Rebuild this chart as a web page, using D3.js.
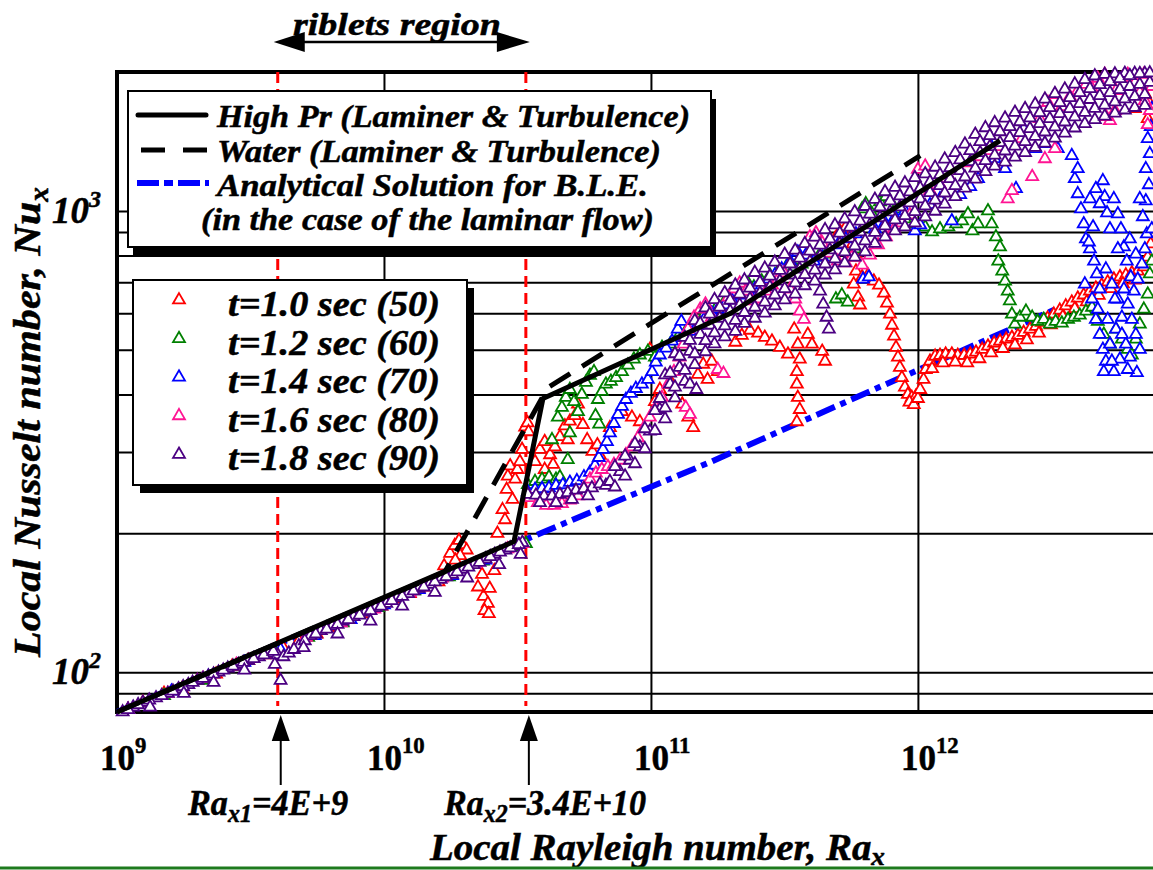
<!DOCTYPE html>
<html lang="en">
<head>
<meta charset="utf-8">
<title>Local Nusselt number vs Local Rayleigh number</title>
<script src="https://d3js.org/d3.v7.min.js"></script>
<style>
  body { margin: 0; background: #fff; }
  svg { display: block; }
  text { font-family: "Liberation Serif", "Times New Roman", Times, serif; }
</style>
</head>
<body>
<svg id="chart"></svg>
<script>
// ---- axis / grid values ----
const xTicks = [1e9, 1e10, 1e11, 1e12];
const xTickExp = ["9", "10", "11", "12"];
const yTicks = [100, 1000];
const yTickExp = ["2", "3"];
const xGrid = [1e10, 1e11, 1e12];
const yGrid = [90, 100, 200, 300, 400, 500, 600, 700, 800, 900, 1000];
const ribletRa = [4e9, 3.4e10];
const ribletLabels = [["x1", "=4E+9"], ["x2", "=3.4E+10"]];

// ---- correlation lines [Ra, Nu] ----
const highPr = [[1e9, 82], [3.07e10, 192], [3.94e10, 392], [1.99e11, 600], [2.03e12, 1420]];
const water = [[1e9, 82], [1.69e10, 165], [4.11e10, 414], [1.02e12, 1317]];
const bleLaminar = [[1e9, 82], [3.4e10, 194], [1.68e11, 286], [1.01e12, 453], [3.4e12, 618]];
const lineNames = ["High Pr (Laminer & Turbulence)", "Water (Laminer & Turbulence)",
  "Analytical Solution for B.L.E.", "(in the case of the laminar flow)"];

// ---- measured points [Ra, Nu] ----
const t10 = [
  [1.1e9,83],[1.25e9,86],[1.5e9,90],[1.75e9,92],[2.0e9,96],[2.35e9,99],[2.7e9,103],[3.1e9,106],[3.6e9,109],[4.2e9,113],
  [4.8e9,117],[5.6e9,121],[6.4e9,125],[7.4e9,130],[8.5e9,134],[9.8e9,139],[1.1e10,144],[1.25e10,148],[1.4e10,153],[1.6e10,157],
  [1.68e10,170],[1.77e10,181],[1.84e10,188],[1.91e10,193],[1.97e10,189],[2.04e10,184],[1.93e10,179],[1.85e10,175],
  [2.25e10,153],[2.36e10,146],[2.45e10,141],[2.38e10,136],[2.49e10,152],[2.47e10,134],[2.33e10,163],[2.59e10,166],[2.66e10,200],
  [2.78e10,225],[2.88e10,249],[2.91e10,266],[2.97e10,280],[3.10e10,262],[3.16e10,275],[3.29e10,304],[3.38e10,340],[3.45e10,347],
  [3.48e10,332],[3.03e10,237],[3.23e10,286],[2.84e10,214],
  [3.68e10,286],[3.84e10,304],[4.0e10,316],[4.19e10,296],[4.37e10,308],[4.56e10,324],[4.76e10,342],[4.97e10,350],[5.19e10,360],
  [5.33e10,381],[5.56e10,344],[5.77e10,319],[6.04e10,301],[6.3e10,311],[6.44e10,295],[4.3e10,282],[4.88e10,319],[4.0e10,275],
  [7.02e10,339],[7.79e10,367],[8.49e10,357],[9.09e10,349],[9.91e10,501],[1.035e11,386],[1.08e11,410],[1.20e11,421],[1.31e11,381],
  [1.38e11,357],[1.44e11,339],[1.50e11,442],[1.57e11,465],[1.63e11,431],[1.69e11,472],[1.78e11,448],
  [2.07e11,519],[2.19e11,537],[2.35e11,551],[2.52e11,543],[2.67e11,532],[2.84e11,522],[3.04e11,506],[3.26e11,489],[3.44e11,554],
  [3.55e11,514],[3.61e11,477],[3.52e11,448],[3.52e11,421],[3.55e11,394],[3.61e11,371],[3.52e11,349],[4.38e11,496],[4.49e11,472],
  [3.87e11,540],[4.01e11,514],
  [4.89e11,869],[5.10e11,905],[5.37e11,923],[5.56e11,887],[5.70e11,848],[5.91e11,794],[5.75e11,694],[5.97e11,650],[6.07e11,625],
  [5.86e11,740],[6.18e11,719],[6.50e11,726],[6.84e11,704],[7.15e11,690],[7.46e11,663],[7.66e11,631],[7.86e11,597],[8.0e11,565],
  [8.14e11,535],[8.28e11,506],[8.42e11,482],[8.56e11,458],[8.71e11,435],[8.94e11,415],[9.17e11,400],[9.49e11,394],[9.82e11,396],
  [9.3e11,385],[9.65e11,380],[1.0e12,392],
  [1.02e12,410],[1.05e12,431],[1.07e12,453],[1.11e12,472],[1.16e12,484],[1.21e12,486],[1.27e12,489],[1.34e12,489],[1.41e12,486],
  [1.49e12,486],[1.57e12,489],[1.65e12,494],[1.74e12,501],[1.83e12,509],[1.93e12,517],[2.03e12,522],[2.14e12,527],[2.25e12,532],
  [2.37e12,537],[2.49e12,545],[2.63e12,554],[2.77e12,562],[2.91e12,573],[3.06e12,585],[3.23e12,597],[3.40e12,609],[3.58e12,622],
  [3.77e12,634],[3.97e12,647],[4.18e12,657],[4.41e12,670],[4.64e12,680],[4.88e12,690],[5.14e12,701],[5.42e12,711],[5.71e12,719],
  [6.01e12,726],[6.33e12,734],[6.66e12,740],[7.02e12,756],[7.26e12,794],[7.45e12,848],
  [1.13e12,455],[1.24e12,468],[1.38e12,470],[1.53e12,468],[1.70e12,478],[1.88e12,492],[2.08e12,503],[2.31e12,512],[2.56e12,525],
  [2.84e12,543],[3.15e12,566],[3.49e12,590],[3.87e12,614],[4.29e12,635],[4.76e12,656],[5.28e12,678],[5.86e12,695],[6.49e12,708],
  [7.08e12,1795],[7.39e12,1708],[7.26e12,1585],[6.49e12,1666]
];

const t12 = [
  [1.1e9,83],[1.5e9,89],[2.1e9,96],[2.9e9,104],[3.9e9,111],[5.2e9,119],[7.0e9,128],[9.5e9,138],[1.3e10,150],[1.75e10,161],
  [2.35e10,174],[3.1e10,187],[3.4e10,190],
  [3.46e10,255],[3.68e10,259],[3.91e10,262],[4.15e10,265],[4.41e10,262],[4.56e10,265],[4.88e10,289],[4.26e10,319],[4.48e10,357],
  [4.64e10,375],[4.80e10,394],[4.97e10,410],[5.15e10,386],[5.33e10,367],[5.51e10,400],[5.71e10,425],[5.91e10,440],[6.12e10,448],
  [6.33e10,390],[6.55e10,406],[6.78e10,421],[7.08e10,427],[7.40e10,435],[7.79e10,448],[4.97e10,330],[6.4e10,345],[6.2e10,360],
  [8.20e10,463],[8.63e10,477],[9.09e10,487],[9.74e10,496],[1.035e11,482],[1.10e11,506],[1.18e11,514],[1.26e11,532],[1.35e11,548],
  [1.45e11,565],[1.56e11,588],[1.66e11,606],[1.78e11,625],[1.91e11,644],[2.05e11,657],[2.19e11,670],[2.31e11,697],[2.43e11,684],
  [2.60e11,704],[2.79e11,726],[2.99e11,740],[3.21e11,756],[3.44e11,756],[3.67e11,767],[3.94e11,778],[4.23e11,794],[4.52e11,806],
  [4.93e11,644],[5.19e11,657],[5.46e11,634],[5.81e11,827],[6.18e11,1010],[6.38e11,1036],[6.73e11,985],[7.21e11,1046],[7.59e11,1073],
  [8.21e11,1010],[8.94e11,961],[9.74e11,937],[1.065e12,923],[1.13e12,900],[1.21e12,914],[1.30e12,923],[1.39e12,937],[1.465e12,951],
  [1.54e12,985],[1.60e12,905],[1.68e12,937],[1.83e12,1000],[1.89e12,937],[1.96e12,878],[2.03e12,835],[2.0e12,778],[2.07e12,740],
  [2.12e12,704],[2.17e12,670],[2.21e12,638],[2.25e12,597],[2.31e12,568],[2.41e12,588],[2.54e12,606],[2.68e12,588],[2.81e12,576],
  [2.96e12,582],[3.12e12,568],[3.28e12,576],[3.46e12,571],[3.65e12,582],[3.84e12,588],[4.04e12,594],[4.26e12,606],[4.49e12,618],
  [4.72e12,576],[4.97e12,540],[5.24e12,514],[5.52e12,554],[5.81e12,527],[6.11e12,501],[6.33e12,487],[6.55e12,527],[6.78e12,568],
  [7.02e12,612],[7.26e12,660],[7.39e12,730],[7.52e12,778]
];

const t14 = [
  [1.1e9,83],[1.6e9,91],[2.2e9,98],[3.0e9,105],[4.1e9,112],[5.5e9,120],[7.5e9,130],[1.0e10,140],[1.35e10,151],[1.8e10,162],
  [2.4e10,175],[3.2e10,189],
  [3.46e10,246],[3.68e10,249],[3.91e10,250],[4.15e10,251],[4.41e10,254],[4.68e10,255],[4.97e10,258],[5.28e10,260],[5.61e10,265],
  [5.91e10,271],[6.17e10,281],[6.38e10,292],[6.61e10,304],[6.84e10,316],[7.02e10,330],[7.27e10,346],[7.53e10,362],[7.79e10,377],
  [8.06e10,390],[8.41e10,402],[8.78e10,412],[9.25e10,421],[9.74e10,431],[1.01e11,448],[1.043e11,470],[1.08e11,487],[1.14e11,504],
  [1.20e11,522],[1.26e11,554],[1.30e11,576],[1.325e11,532],[1.40e11,548],[1.49e11,565],[1.58e11,582],[1.69e11,600],[1.78e11,612],
  [1.89e11,625],[2.01e11,641],[2.15e11,657],[2.31e11,670],[2.45e11,677],[2.60e11,690],[2.77e11,711],[2.91e11,726],[3.09e11,748],
  [3.32e11,778],[3.55e11,814],[3.80e11,802],[4.08e11,778],[4.38e11,794],[4.68e11,819],[5.01e11,844],[5.37e11,869],[5.86e11,891],
  [6.23e11,711],[6.55e11,719],[6.90e11,914],[7.53e11,942],[8.21e11,971],[8.94e11,1000],[9.74e11,905],[1.02e12,932],[1.11e12,1031],
  [1.21e12,1062],[1.34e12,951],[1.44e12,1084],[1.57e12,1128],[1.68e12,1174],[1.83e12,1420],[1.94e12,1297],[2.12e12,1234],
  [2.33e12,1117],[2.49e12,1507],[2.75e12,1364],[2.99e12,1398],[3.34e12,1364],[3.77e12,1317],[3.87e12,1174],[3.97e12,1089],
  [4.08e12,1010],[4.18e12,937],[4.26e12,869],[4.41e12,827],[4.57e12,778],[4.68e12,730],[4.80e12,677],[4.93e12,1162],[5.01e12,1073],
  [5.11e12,990],[5.24e12,914],[5.42e12,1062],[5.61e12,985],[5.76e12,914],[5.91e12,835],[6.06e12,778],[6.27e12,719],[4.53e12,923],
  [4.37e12,856],[4.64e12,582],[4.80e12,540],[4.93e12,501],[5.06e12,472],[4.97e12,448],[5.24e12,514],[5.52e12,554],[5.81e12,588],
  [6.11e12,628],[6.44e12,670],[6.66e12,711],[6.90e12,767],[7.08e12,827],[7.20e12,891],[6.96e12,971],[7.14e12,1051],[7.33e12,1139],
  [7.14e12,1234],[7.39e12,1330],[7.26e12,1434],[7.45e12,1522],[6.61e12,446],[6.22e12,482],[6.01e12,514],[5.71e12,477],[5.42e12,448],
  [5.61e12,644],[5.33e12,694],[5.06e12,748],[4.22e12,694],[4.49e12,644],[4.72e12,612],[5.14e12,582],[5.47e12,644],[5.91e12,677],
  [6.33e12,582],[6.55e12,540],[6.78e12,501],[6.11e12,453],[5.81e12,540],[5.33e12,472],[5.61e12,827],[6.22e12,869],[6.55e12,806],
  [4.41e12,1062],[4.64e12,1117],[4.80e12,1036],[3.97e12,1234],[6.78e12,1062],[7.52e12,914],[7.52e12,1666]
];

const t16 = [
  [1.1e9,83],[1.55e9,90],[2.1e9,97],[2.8e9,104],[3.8e9,111],[5.1e9,119],[6.9e9,128],[9.2e9,137],[1.25e10,149],[1.65e10,160],
  [2.2e10,172],[2.9e10,185],[3.3e10,190],
  [3.52e10,239],[3.77e10,233],[4.05e10,230],[4.34e10,230],[4.64e10,232],[4.97e10,236],[5.33e10,241],[5.61e10,251],[5.91e10,262],
  [6.22e10,270],[6.55e10,275],[6.90e10,279],[7.27e10,282],[7.66e10,288],[8.06e10,296],[8.49e10,308],[8.93e10,322],[9.41e10,339],
  [9.91e10,357],[1.043e11,375],[1.10e11,394],[1.16e11,421],[1.22e11,448],[1.28e11,482],[1.325e11,514],[1.376e11,554],[1.45e11,588],
  [1.53e11,612],[1.60e11,628],[1.69e11,588],[1.78e11,453],[1.87e11,444],[1.35e11,375],[1.40e11,362],[1.95e11,650],[2.05e11,677],
  [2.15e11,697],[2.27e11,670],[2.39e11,638],[2.56e11,644],[2.70e11,670],[2.84e11,690],[2.99e11,711],[3.15e11,734],[3.32e11,677],
  [3.47e11,644],[3.61e11,606],[3.74e11,582],[3.94e11,878],[4.15e11,896],[4.38e11,852],[4.68e11,810],[5.01e11,778],[5.37e11,771],
  [5.66e11,794],[6.18e11,763],[6.61e11,802],[7.09e11,844],[7.59e11,878],[8.14e11,914],[8.71e11,942],[9.33e11,980],[1.0e12,1230],
  [1.065e12,1250],[1.11e12,1106],[1.21e12,1139],[1.32e12,1174],[1.44e12,1222],[1.57e12,1271],[1.71e12,1310],[1.86e12,1351],
  [2.03e12,1378],[2.17e12,1062],[2.25e12,1106],[2.45e12,1434],[2.68e12,1186],[2.86e12,1585],[3.07e12,1717],[3.26e12,1786],
  [3.46e12,1683],[3.71e12,1770],[3.97e12,1823],[4.26e12,1879],[4.49e12,1841],[4.72e12,1936],[5.01e12,1976],[5.24e12,1569],
  [5.52e12,1823],[5.81e12,1936],[6.11e12,1976],[6.50e12,1898],[6.78e12,1804],[7.08e12,1734],[7.39e12,1650],[7.26e12,1537],
  [7.52e12,1860],[7.02e12,1976],[5.07e12,1600],[5.47e12,1650],[2.99e12,1297],[3.26e12,1364]
];

const t18 = [
  [1.05e9,82],[1.15e9,84],[1.25e9,86],[1.4e9,88],[1.55e9,90],[1.7e9,92],[1.85e9,94],[2.0e9,96],[2.2e9,98],[2.4e9,100],
  [2.6e9,102],[2.85e9,104],[3.1e9,106],[3.4e9,108],[3.7e9,110],[4.0e9,109],[4.1e9,96],[4.2e9,108],[4.4e9,110],[4.8e9,114],
  [5.3e9,120],[5.8e9,123],[6.4e9,126],[7.0e9,129],[7.7e9,132],[8.5e9,135],[9.3e9,138],[1.02e10,141],[1.12e10,145],[1.23e10,148],
  [1.35e10,152],[1.48e10,155],[1.63e10,159],[1.8e10,163],[1.97e10,167],[2.17e10,171],[2.4e10,176],[2.6e10,180],[2.85e10,184],
  [3.1e10,188],[3.3e10,191],
  [1.1e9,83],[1.2e9,85],[1.32e9,87],[1.47e9,89],[1.62e9,91],[1.77e9,93],[1.92e9,95],[2.1e9,97],[2.3e9,99],[2.5e9,101],
  [2.72e9,103],[2.97e9,105],[3.25e9,107],[3.55e9,109],[3.85e9,111],[4.6e9,112],[5.05e9,117],[5.55e9,121],[6.1e9,124],[6.7e9,127],
  [7.35e9,130],[8.1e9,133],[8.9e9,136],[9.75e9,139],[1.07e10,143],[1.17e10,146],[1.29e10,150],[1.41e10,153],[1.55e10,157],
  [1.71e10,161],[1.88e10,165],[2.07e10,169],[2.28e10,173],[2.5e10,178],[2.72e10,182],[2.97e10,186],[3.2e10,189],
  [1.33e9,84],[1.78e9,90],[2.3e9,95],[3.0e9,101],[3.9e9,104],[5.0e9,113],[6.7e9,121],[8.9e9,129],[1.17e10,139],[1.55e10,149],
  [2.05e10,160],[2.7e10,171],[3.25e10,180],
  [3.46e10,243],[3.71e10,242],[3.98e10,241],[4.26e10,241],[4.56e10,243],[4.88e10,245],[5.24e10,248],[5.61e10,250],[6.01e10,251],
  [6.44e10,256],[6.78e10,254],[3.84e10,233],[4.41e10,233],[5.06e10,237],[5.81e10,241],
  [7.02e10,259],[7.66e10,272],[8.34e10,288],[9.09e10,308],[9.91e10,333],[1.08e11,371],[1.18e11,421],[1.28e11,458],[1.40e11,496],
  [1.53e11,540],[1.66e11,565],[1.81e11,585],[1.98e11,606],[2.15e11,625],[2.35e11,644],[2.56e11,663],[2.79e11,684],[3.04e11,704],
  [3.32e11,726],[3.61e11,748],[3.94e11,775],[4.30e11,798],[4.68e11,823],[5.10e11,848],[5.56e11,873],[6.07e11,900],[6.61e11,932],
  [7.21e11,966],[7.86e11,995],[8.56e11,1020],[9.33e11,1041],[1.02e12,1062],[1.11e12,1095],[1.21e12,1134],[1.32e12,1174],
  [1.44e12,1222],[1.57e12,1278],[1.71e12,1337],[1.86e12,1378],[2.03e12,1405],[2.21e12,1441],[2.41e12,1477],[2.63e12,1507],
  [2.86e12,1545],[3.12e12,1585],[3.40e12,1625],[3.71e12,1666],[4.04e12,1708],[4.41e12,1743],[4.80e12,1777],[5.24e12,1804],
  [5.71e12,1832],[6.22e12,1860],[6.78e12,1879],[7.39e12,1898],
  [7.33e10,279],[7.33e10,252],[8.0e10,294],[8.0e10,266],[8.71e10,313],[8.71e10,283],[9.49e10,337],[9.49e10,305],[1.035e11,369],
  [1.035e11,334],
  [1.13e11,441],[1.13e11,354],[1.23e11,490],[1.23e11,393],[1.34e11,532],[1.34e11,427],[1.46e11,578],[1.46e11,464],
  [1.60e11,616],[1.60e11,495],[1.73e11,642],[1.73e11,515],[1.89e11,664],[1.89e11,533],[2.07e11,690],[2.07e11,548],
  [2.24e11,708],[2.24e11,570],[2.45e11,735],[2.45e11,585],[2.67e11,751],[2.67e11,600],[2.91e11,774],[2.91e11,622],
  [3.17e11,805],[3.17e11,641],[3.47e11,822],[3.47e11,660],[3.77e11,849],[3.77e11,688],[4.11e11,877],[4.11e11,704],
  [4.49e11,910],[4.49e11,726],[4.89e11,932],[4.89e11,745],[5.32e11,960],[5.32e11,771],[5.80e11,995],[5.80e11,794],
  [6.34e11,1022],[6.34e11,815],[6.90e11,1059],[6.90e11,850],[7.53e11,1100],[7.53e11,878],[8.21e11,1124],[8.21e11,905],
  [8.94e11,1149],[8.94e11,923],[9.74e11,1180],[9.74e11,942],[1.065e12,1203],[1.065e12,970],[1.16e12,1243],[1.16e12,998],
  [1.26e12,1295],[1.26e12,1034],[1.38e12,1337],[1.38e12,1073],[1.50e12,1395],[1.50e12,1120],[1.64e12,1465],[1.64e12,1171],
  [1.79e12,1514],[1.79e12,1216],[1.94e12,1552],[1.94e12,1250],[2.12e12,1588],[2.12e12,1275],[2.31e12,1635],[2.31e12,1307],
  [2.52e12,1665],[2.52e12,1337],[2.75e12,1703],[2.75e12,1372],[2.99e12,1747],[2.99e12,1402],[3.26e12,1795],[3.26e12,1438],
  [3.55e12,1836],[3.55e12,1474],[3.87e12,1883],[3.87e12,1512],[4.22e12,1925],[4.22e12,1546],[4.60e12,1960],[4.60e12,1577],
  [5.01e12,1975],[5.01e12,1604],[5.47e12,1980],[5.47e12,1629],[5.96e12,1985],[5.96e12,1654],[6.49e12,1985],[6.49e12,1675],
  [7.08e12,1985],[7.08e12,1692],
  [1.08e11,392],[1.18e11,445],[1.28e11,484],[1.40e11,524],[1.53e11,570],[1.66e11,597],[1.81e11,618],[1.98e11,640],[2.15e11,660],
  [2.35e11,680],[2.56e11,700],[2.79e11,722],[3.04e11,743],[3.32e11,767],[3.61e11,790],[3.94e11,818],[4.30e11,843],[4.68e11,869],
  [5.10e11,895],[5.56e11,922],[6.07e11,950],[6.61e11,984],[7.21e11,1020],[7.86e11,1051],[8.56e11,1077],[9.33e11,1099],
  [1.02e12,1121],[1.11e12,1156],[1.21e12,1198],[1.32e12,1240],[1.44e12,1290],[1.57e12,1350],[1.71e12,1412],[1.86e12,1455],
  [2.03e12,1484],[2.21e12,1522],[2.41e12,1560],[2.63e12,1591],[2.86e12,1632],[3.12e12,1674],[3.40e12,1716],[3.71e12,1759],
  [4.04e12,1804],[4.41e12,1841],[4.80e12,1877],[5.24e12,1905],[5.71e12,1935],[6.22e12,1964],[6.78e12,1984],[7.39e12,1990],
  [1.13e11,374],[1.23e11,415],[1.34e11,451],[1.46e11,490],[1.60e11,523],[1.73e11,544],[1.89e11,563],[2.07e11,579],[2.24e11,602],
  [2.45e11,618],[2.67e11,634],[2.91e11,657],[3.17e11,678],[3.47e11,698],[3.77e11,727],[4.11e11,744],[4.49e11,767],[4.89e11,787],
  [5.32e11,815],[5.80e11,839],[6.34e11,861],[6.90e11,898],[7.53e11,928],[8.21e11,956],[8.94e11,976],[9.74e11,996],[1.065e12,1025],
  [1.16e12,1055],[1.26e12,1093],[1.38e12,1134],[1.50e12,1184],[1.64e12,1238],[1.79e12,1285],[1.94e12,1321],[2.12e12,1348],
  [2.31e12,1381],[2.52e12,1413],[2.75e12,1450],[2.99e12,1482],[3.26e12,1520],[3.55e12,1558],[3.87e12,1598],[4.22e12,1634],
  [4.60e12,1667],[5.01e12,1695],[5.47e12,1722],[5.96e12,1748],[6.49e12,1770],[7.08e12,1788],
  [4.30e11,670],[4.42e11,628],[4.55e11,588],[4.64e11,554],[1.40e11,421],[1.48e11,410]
];

const seriesNames = ["t=1.0 sec (50)", "t=1.2 sec (60)", "t=1.4 sec (70)", "t=1.6 sec (80)", "t=1.8 sec (90)"];
const seriesColors = ["#ff0000", "#008000", "#0000ff", "#ff1493", "#4b0082"];
const seriesData = [t10, t12, t14, t16, t18];

// ---- layout ----
const W = 1153, H = 870;
const FONT = "'Liberation Serif', 'Times New Roman', Times, serif";
const svg = d3.select("#chart").attr("width", W).attr("height", H);
svg.append("rect").attr("width", W).attr("height", H).attr("fill", "#fff");

const x = d3.scaleLog().domain([1e9, 8e12]).range([117, 1159]);
const y = d3.scaleLog().domain([82, 2000]).range([712, 72]);
const [plotL, plotR] = x.range();
const [plotB, plotT] = y.range();

function richText(parent, px, py, size, parts, opts = {}) {
  const t = parent.append("text")
    .attr("x", px).attr("y", py)
    .attr("font-family", FONT)
    .attr("font-size", size)
    .attr("font-weight", "bold")
    .attr("font-style", opts.upright ? "normal" : "italic")
    .attr("text-anchor", opts.anchor || "start")
    .attr("fill", "#000")
    .attr("stroke", "#000").attr("stroke-width", 0.5);
  if (opts.transform) t.attr("transform", opts.transform);
  if (opts.len) t.attr("textLength", opts.len).attr("lengthAdjust", "spacingAndGlyphs");
  parts.forEach(p => {
    const [txt, dy = 0, k = 1] = Array.isArray(p) ? p : [p];
    const ts = t.append("tspan").text(txt);
    if (dy) ts.attr("dy", dy);
    if (k !== 1) ts.attr("font-size", size * k);
  });
  return t;
}

// grid
svg.append("g")
  .attr("transform", `translate(0,${plotB})`)
  .call(d3.axisBottom(x).tickValues(xGrid).tickSize(-(plotB - plotT)).tickFormat(""))
  .call(g => g.select(".domain").remove())
  .call(g => g.selectAll("line").attr("stroke", "#000").attr("stroke-width", 2));
svg.append("g")
  .attr("transform", `translate(${plotL},0)`)
  .call(d3.axisLeft(y).tickValues(yGrid).tickSize(-(plotR - plotL + 10)).tickFormat(""))
  .call(g => g.select(".domain").remove())
  .call(g => g.selectAll("line").attr("stroke", "#000").attr("stroke-width", 2));

// frame
svg.append("rect")
  .attr("x", plotL).attr("y", plotT)
  .attr("width", plotR - plotL + 10).attr("height", plotB - plotT)
  .attr("fill", "none").attr("stroke", "#000").attr("stroke-width", 4);

// riblet bounds
svg.selectAll(".rib").data(ribletRa).join("line")
  .attr("x1", d => x(d)).attr("x2", d => x(d))
  .attr("y1", plotT).attr("y2", plotB - 6)
  .attr("stroke", "#ff0000").attr("stroke-width", 3).attr("stroke-dasharray", "11,6");

const line = d3.line().x(d => x(d[0])).y(d => y(d[1]));

// analytical solution (under the points)
svg.append("path").datum(bleLaminar).attr("d", line)
  .attr("fill", "none").attr("stroke", "#0000ff").attr("stroke-width", 6)
  .attr("stroke-dasharray", "20,6,6,6");

// points
const tri = d3.symbol().type(d3.symbolTriangle).size(62);
seriesData.forEach((data, i) => {
  svg.append("g").selectAll("path").data(data).join("path")
    .attr("d", tri)
    .attr("transform", d => `translate(${x(d[0])},${y(d[1])})`)
    .attr("fill", "#fff").attr("stroke", seriesColors[i]).attr("stroke-width", 1.8);
});

// correlations
svg.append("path").datum(water).attr("d", line)
  .attr("fill", "none").attr("stroke", "#000").attr("stroke-width", 5)
  .attr("stroke-dasharray", "24,14");
svg.append("path").datum(highPr).attr("d", line)
  .attr("fill", "none").attr("stroke", "#000").attr("stroke-width", 5)
  .attr("stroke-linejoin", "round");

// legend 1
const leg1 = svg.append("g");
leg1.append("rect").attr("x", 133).attr("y", 99).attr("width", 583).attr("height", 156).attr("fill", "#000");
leg1.append("rect").attr("x", 128).attr("y", 91).attr("width", 583).attr("height", 156)
  .attr("fill", "#fff").attr("stroke", "#000").attr("stroke-width", 2);
leg1.append("line").attr("x1", 138).attr("x2", 206).attr("y1", 115).attr("y2", 115)
  .attr("stroke", "#000").attr("stroke-width", 5).attr("stroke-linecap", "round");
leg1.append("line").attr("x1", 141).attr("x2", 207).attr("y1", 150).attr("y2", 150)
  .attr("stroke", "#000").attr("stroke-width", 5).attr("stroke-dasharray", "24,18");
leg1.append("line").attr("x1", 137).attr("x2", 209).attr("y1", 183).attr("y2", 183)
  .attr("stroke", "#0000ff").attr("stroke-width", 6).attr("stroke-dasharray", "22,5,9,5");
const leg1Rows = [[217, 127, 473], [217, 162, 444], [217, 196, 431], [201, 230, 453]];
lineNames.forEach((n, i) => richText(leg1, leg1Rows[i][0], leg1Rows[i][1], 32, [n], { len: leg1Rows[i][2] }));

// legend 2
const leg2 = svg.append("g");
leg2.append("rect").attr("x", 140).attr("y", 288).attr("width", 334).attr("height", 205).attr("fill", "#000");
leg2.append("rect").attr("x", 133).attr("y", 280).attr("width", 334).attr("height", 205)
  .attr("fill", "#fff").attr("stroke", "#000").attr("stroke-width", 2);
seriesNames.forEach((n, i) => {
  const yy = 316 + i * 38.6;
  leg2.append("path").attr("d", tri).attr("transform", `translate(179,${yy - 16})`)
    .attr("fill", "#fff").attr("stroke", seriesColors[i]).attr("stroke-width", 1.8);
  richText(leg2, 228, yy, 35, [n], { len: 212 });
});

// tick labels
xTicks.forEach((v, i) => richText(svg, x(v) - 17, 770, 35, ["10", [xTickExp[i], -17, 0.65]], { upright: true }));
yTicks.forEach((v, i) => richText(svg, 101, y(v) + 12, 37, ["10", [yTickExp[i], -16, 0.65]], { anchor: "end" }));

// axis titles
richText(svg, 430, 860, 37, ["Local Rayleigh number, Ra", ["x", 5, 0.7]], { len: 455 });
richText(svg, 0, 0, 38, ["Local Nusselt number, Nu", ["x", 8, 0.7]],
  { transform: "translate(40,657) rotate(-90)", len: 470 });

// riblet region annotation
const r0 = x(ribletRa[0]) - 4, r1 = x(ribletRa[1]) + 4;
svg.append("line").attr("x1", r0 + 20).attr("x2", r1 - 20).attr("y1", 42).attr("y2", 42)
  .attr("stroke", "#000").attr("stroke-width", 2.5);
svg.append("path").attr("d", `M${r0},42 L${r0 + 31},32 L${r0 + 31},52 Z`).attr("fill", "#000");
svg.append("path").attr("d", `M${r1},42 L${r1 - 33},32 L${r1 - 33},52 Z`).attr("fill", "#000");
richText(svg, 293, 35, 32, ["riblets region"], { len: 208 });

// Ra_x1 / Ra_x2 markers
const labelPos = [[188, 160], [444, 202]];
ribletRa.forEach((v, i) => {
  const ax = x(v) + 3;
  svg.append("path").attr("d", `M${ax},715 L${ax - 9},741 L${ax + 9},741 Z`).attr("fill", "#000");
  svg.append("line").attr("x1", ax).attr("x2", ax).attr("y1", 740).attr("y2", 785)
    .attr("stroke", "#000").attr("stroke-width", 2);
  richText(svg, labelPos[i][0], 815, 35,
    ["Ra", [ribletLabels[i][0], 7, 0.7], [ribletLabels[i][1], -7]], { len: labelPos[i][1] });
});

// page separator at the bottom
svg.append("line").attr("x1", 0).attr("x2", W).attr("y1", 868).attr("y2", 868)
  .attr("stroke", "#1d7a1d").attr("stroke-width", 3);
</script>
</body>
</html>
